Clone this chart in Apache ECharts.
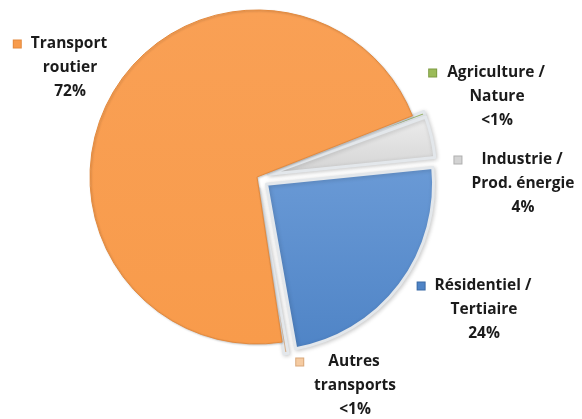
<!DOCTYPE html>
<html>
<head>
<meta charset="utf-8">
<script src="https://cdn.jsdelivr.net/npm/echarts@6/dist/echarts.min.js"></script>
<style>
  html, body { margin: 0; padding: 0; background: #ffffff; }
  #chart { width: 582px; height: 419px; }
</style>
</head>
<body>
<div id="chart"></div>
<script>
// Sectors listed clockwise, starting at the upper right
const categories = ['Agriculture / Nature', 'Industrie / Prod. énergie', 'Résidentiel / Tertiaire', 'Autres transports', 'Transport routier'];
const shares = [0.4, 4, 24, 0.4, 72];
const shareLabels = ['<1%', '4%', '24%', '<1%', '72%'];
const exploded = [true, true, true, true, false];

// Styling
const fills = ['#9BBB59', '#D3D3D3', '#4F84C6', '#F5CBA2', '#F89B4B'];
const fillsLight = ['#B3CF7A', '#EDEDED', '#6A9AD6', '#FADCBD', '#F9A055'];
const edges = ['#7E9C43', '#AFAFAF', '#3B6AA6', '#D9A87A', '#E38A3E'];

// Label block centres and gap between the key square and the first line
const labelCentres = [[497, 97], [523, 184], [484, 310], [355, 386], [70, 68]];
const keyGaps = [11, 20, 10, 25, 10];
const LINE_H = 24;

function splitName(name) {
  const slash = name.indexOf(' / ');
  if (slash >= 0) return [name.slice(0, slash + 2), name.slice(slash + 3)];
  const sp = name.indexOf(' ');
  return [name.slice(0, sp), name.slice(sp + 1)];
}

const data = categories.map((name, i) => ({
  name: name,
  value: shares[i],
  selected: exploded[i],
  itemStyle: {
    color: {
      type: 'linear', x: 0, y: 0, x2: 0, y2: 1,
      colorStops: [{ offset: 0, color: fillsLight[i] }, { offset: 1, color: fills[i] }]
    },
    borderColor: exploded[i] ? '#E3E7EB' : edges[i],
    borderWidth: exploded[i] ? 3 : 1,
    shadowColor: 'rgba(0,0,0,0.18)',
    shadowBlur: exploded[i] ? 4 : 2,
    shadowOffsetX: 1,
    shadowOffsetY: 1
  }
}));

// Category labels with a small key square in front of the first line
const labelTexts = categories.map((name, i) => {
  const lines = splitName(name);
  return {
    type: 'text',
    x: labelCentres[i][0],
    y: labelCentres[i][1],
    silent: true,
    style: {
      text: '{k|}{g|}{t|' + lines[0] + '}{s|}\n{t|' + lines[1] + '}\n{t|' + shareLabels[i] + '}',
      align: 'center',
      verticalAlign: 'middle',
      rich: {
        t: { fontFamily: 'Open Sans', fontWeight: 'bold', fontSize: 15.5, fill: '#1b1b1b', lineHeight: LINE_H },
        k: { width: 7, height: 7, backgroundColor: fills[i], borderColor: edges[i], borderWidth: 1, lineHeight: LINE_H },
        g: { width: keyGaps[i], lineHeight: LINE_H },
        s: { width: keyGaps[i] + 9, lineHeight: LINE_H }
      }
    }
  };
});

const chart = echarts.init(document.getElementById('chart'), null, { renderer: 'canvas' });
chart.setOption({
  animation: false,
  backgroundColor: '#ffffff',
  graphic: labelTexts,
  series: [{
    type: 'pie',
    center: [257, 177],
    radius: 167,
    startAngle: 21.5,
    clockwise: true,
    selectedMode: 'multiple',
    selectedOffset: 12,
    emphasis: { disabled: true },
    data: data,
    label: { show: false },
    labelLine: { show: false }
  }]
});
</script>
</body>
</html>
